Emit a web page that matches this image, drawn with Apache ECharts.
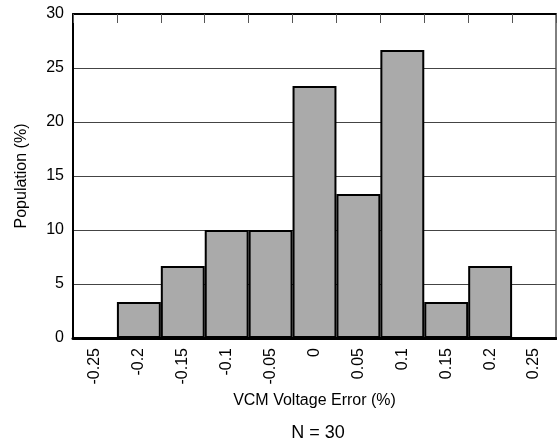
<!DOCTYPE html>
<html>
<head>
<meta charset="utf-8">
<script src="https://cdn.jsdelivr.net/npm/echarts@6/dist/echarts.min.js"></script>
<style>html,body{margin:0;padding:0;background:#fff}#c{width:557px;height:445px}</style>
</head>
<body>
<div id="c"></div>
<script>
const categories = ['-0.25','-0.2','-0.15','-0.1','-0.05','0','0.05','0.1','0.15','0.2','0.25'];
const population = [0, 3.33, 6.67, 10, 10, 23.33, 13.33, 26.67, 3.33, 6.67, 0];
const yTicks = [0, 5, 10, 15, 20, 25, 30];

const chart = echarts.init(document.getElementById('c'), null, {renderer: 'canvas'});
const font = 'Liberation Sans, Arial, sans-serif';
chart.setOption({
  animation: false,
  backgroundColor: '#fff',
  title: {
    text: 'N = 30', left: 313, top: 419, textAlign: 'center',
    textStyle: {fontFamily: font, fontSize: 18, fontWeight: 'normal', color: '#000'}
  },
  grid: {left: 73, top: 14, right: 1, bottom: 107, show: true, borderColor: '#000', borderWidth: 1, containLabel: false},
  xAxis: [{
    type: 'category', data: categories, position: 'bottom',
    name: 'VCM Voltage Error (%)', nameLocation: 'middle', nameGap: 54,
    nameTextStyle: {fontFamily: font, fontSize: 16, color: '#000'},
    axisLine: {show: true, lineStyle: {color: '#000', width: 3}},
    axisTick: {show: false},
    axisLabel: {rotate: 90, margin: 10, fontFamily: font, fontSize: 16, color: '#000'},
    splitLine: {show: false}
  }, {
    type: 'category', data: categories, position: 'top',
    axisLine: {show: true, lineStyle: {color: '#000', width: 2}},
    axisTick: {show: true, inside: true, length: 9, lineStyle: {color: '#555', width: 1}},
    axisLabel: {show: false}
  }],
  yAxis: {
    type: 'value', min: yTicks[0], max: yTicks[yTicks.length-1], interval: 5,
    name: 'Population (%)', nameLocation: 'middle', nameGap: 43,
    nameTextStyle: {fontFamily: font, fontSize: 16, color: '#000'},
    axisLine: {show: true, lineStyle: {color: '#000', width: 2}},
    axisTick: {show: false},
    axisLabel: {margin: 9, fontFamily: font, fontSize: 16, color: '#000'},
    splitLine: {show: true, lineStyle: {color: '#444', width: 1}}
  },
  series: [{
    type: 'bar', data: population, xAxisIndex: 0,
    barCategoryGap: '0%',
    itemStyle: {color: '#aaaaaa', borderColor: '#000', borderWidth: 2}
  }]
});
</script>
</body>
</html>
